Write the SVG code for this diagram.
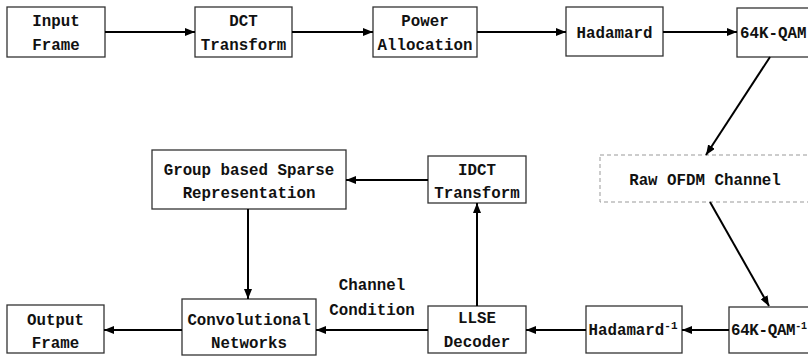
<svg xmlns="http://www.w3.org/2000/svg" width="808" height="358" viewBox="0 0 808 358">
<style>
.box{fill:#fff;stroke:#333;stroke-width:1.3}
.dash{fill:#fff;stroke:#999;stroke-width:1;stroke-dasharray:4 3}
text{font-family:"Liberation Mono","DejaVu Sans Mono",monospace;font-size:15.8px;font-weight:bold;fill:#111;text-anchor:middle}
.c line{stroke:#000;stroke-width:2;marker-end:url(#ah)}
</style>
<defs>
<marker id="ah" markerWidth="10" markerHeight="8" refX="10" refY="4" orient="auto" markerUnits="userSpaceOnUse">
<path d="M0,0 L10,4 L0,8 Z" fill="#000"/>
</marker>
</defs>
<g id="input"><rect class="box" x="7" y="7" width="98" height="50"/><text x="56" y="26">Input</text><text x="56" y="50">Frame</text></g>
<g id="dct"><rect class="box" x="195" y="7" width="97" height="50"/><text x="243.5" y="26">DCT</text><text x="243.5" y="50">Transform</text></g>
<g id="power"><rect class="box" x="373" y="7" width="104" height="50"/><text x="425" y="26">Power</text><text x="425" y="50">Allocation</text></g>
<g id="hadamard"><rect class="box" x="566" y="7" width="97" height="49"/><text x="614.5" y="38">Hadamard</text></g>
<g id="qam"><rect class="box" x="737" y="8" width="100" height="49"/><text x="740" y="38" style="text-anchor:start">64K-QAM</text></g>
<g id="ofdm"><rect class="dash" x="600" y="155" width="215" height="47"/><text x="705" y="185">Raw OFDM Channel</text></g>
<g id="qaminv"><rect class="box" x="729" y="307" width="100" height="46"/><text x="731" y="335" style="text-anchor:start;letter-spacing:-0.3px">64K-QAM<tspan dy="-6" font-size="10">-1</tspan></text></g>
<g id="hadinv"><rect class="box" x="586" y="306" width="96" height="47"/><text x="633" y="335">Hadamard<tspan dy="-6" font-size="11">-1</tspan></text></g>
<g id="llse"><rect class="box" x="428" y="306" width="98" height="47"/><text x="477" y="323">LLSE</text><text x="477" y="347">Decoder</text></g>
<g id="idct"><rect class="box" x="428" y="156" width="98" height="47"/><text x="477" y="175">IDCT</text><text x="477" y="198">Transform</text></g>
<g id="gsr"><rect class="box" x="152" y="150" width="194" height="59"/><text x="249" y="175">Group based Sparse</text><text x="249" y="198">Representation</text></g>
<g id="conv"><rect class="box" x="182" y="299" width="134" height="56"/><text x="249" y="325">Convolutional</text><text x="249" y="348">Networks</text></g>
<g id="output"><rect class="box" x="7" y="305" width="97" height="48"/><text x="55.5" y="325">Output</text><text x="55.5" y="348">Frame</text></g>
<g id="label"><text x="372" y="290">Channel</text><text x="372" y="315">Condition</text></g>
<g class="c" id="connectors">
<line x1="105" y1="32" x2="195" y2="32"/>
<line x1="292" y1="32" x2="373" y2="32"/>
<line x1="477" y1="32" x2="566" y2="32"/>
<line x1="663" y1="32" x2="737" y2="32"/>
<line x1="770" y1="57" x2="706" y2="155"/>
<line x1="710" y1="202" x2="769" y2="306"/>
<line x1="729" y1="330" x2="682" y2="330"/>
<line x1="586" y1="330" x2="526" y2="330"/>
<line x1="428" y1="330" x2="316" y2="330"/>
<line x1="182" y1="330" x2="104" y2="330"/>
<line x1="477" y1="306" x2="477" y2="203"/>
<line x1="428" y1="180" x2="346" y2="180"/>
<line x1="248" y1="209" x2="248" y2="299"/>
</g>
</svg>
